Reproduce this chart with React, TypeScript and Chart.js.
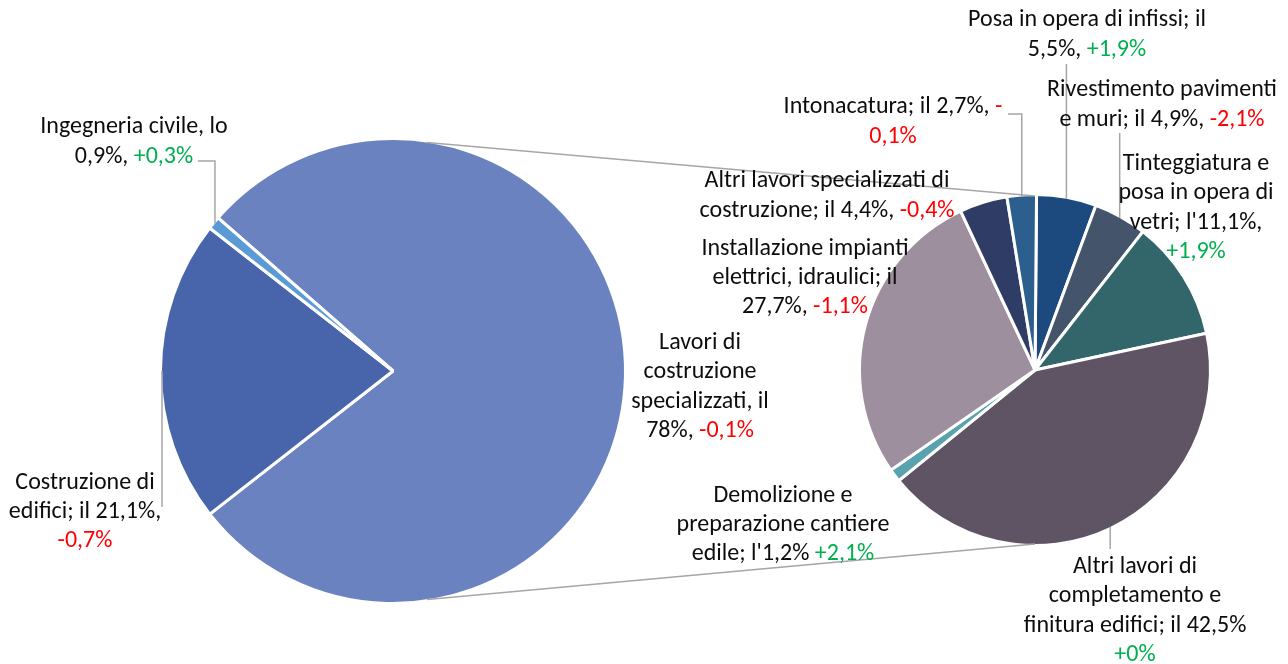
import { useEffect, useRef } from "react";
import { Chart, registerables } from "chart.js";

Chart.register(...registerables);

// ---------- data ----------
const mainCategories = [
  "Lavori di costruzione specializzati",
  "Costruzione di edifici",
  "Ingegneria civile",
];
const mainValues = [78, 21.1, 0.9];
const mainChanges = [-0.1, -0.7, 0.3];
const mainColors = ["#6A82BF", "#4864AA", "#5B9BD5"];
// label text lines; {...} = variation part (coloured by sign)
const mainLabelLines = [
  ["Lavori di", "costruzione", "specializzati, il", "78%, {-0,1%}"],
  ["Costruzione di", "edifici; il 21,1%,", "{-0,7%}"],
  ["Ingegneria civile, lo", "0,9%, {+0,3%}"],
];

const subCategories = [
  "Posa in opera di infissi",
  "Rivestimento pavimenti e muri",
  "Tinteggiatura e posa in opera di vetri",
  "Altri lavori di completamento e finitura edifici",
  "Demolizione e preparazione cantiere edile",
  "Installazione impianti elettrici, idraulici",
  "Altri lavori specializzati di costruzione",
  "Intonacatura",
];
const subValues = [5.5, 4.9, 11.1, 42.5, 1.2, 27.7, 4.4, 2.7];
const subChanges = [1.9, -2.1, 1.9, 0, 2.1, -1.1, -0.4, -0.1];
const subColors = [
  "#1D4A7E",
  "#44546A",
  "#33666A",
  "#5F5463",
  "#5AA2AE",
  "#9E8F9E",
  "#2E3C66",
  "#2C5F8E",
];
const subLabelLines = [
  ["Posa in opera di infissi; il", "5,5%, {+1,9%}"],
  ["Rivestimento pavimenti", "e muri; il 4,9%, {-2,1%}"],
  ["Tinteggiatura e", "posa in opera di", "vetri; l'11,1%,", "{+1,9%}"],
  ["Altri lavori di", "completamento e", "finitura edifici; il 42,5%", "{+0%}"],
  ["Demolizione e", "preparazione cantiere", "edile; l'1,2% {+2,1%}"],
  ["Installazione impianti", "elettrici, idraulici; il", "27,7%, {-1,1%}"],
  ["Altri lavori specializzati di", "costruzione; il 4,4%, {-0,4%}"],
  ["Intonacatura; il 2,7%, {-}", "{0,1%}"],
];

// ---------- layout / style ----------
const W = 1288;
const H = 664;
const BORDER = 3;
const FONT = "24px Carlito, Calibri, Lato, sans-serif";
const LINE_H = 29.3;
const TEXT = "#0D0D0D";
const GREEN = "#00B050";
const RED = "#FF0000";
const LEADER = "#A6A6A6";

type Leader = { y: number; x?: number } | null;
type LabelPos = { dx: number; dy: number; leader: Leader };

// label centre offsets relative to pie centre
const mainLabelPos: LabelPos[] = [
  { dx: 307, dy: 16, leader: null },
  { dx: -308, dy: 141, leader: { y: 136 } },
  { dx: -259, dy: -229, leader: { y: -210, x: -195 } },
];
const subLabelPos: LabelPos[] = [
  { dx: 52, dy: -335, leader: { y: -306 } },
  { dx: 127, dy: -265, leader: { y: -237 } },
  { dx: 161, dy: -162, leader: null },
  { dx: 100, dy: 241, leader: { y: 179 } },
  { dx: -252, dy: 155, leader: null },
  { dx: -230, dy: -92, leader: null },
  { dx: -208, dy: -174, leader: null },
  { dx: -142, dy: -248, leader: { y: -256, x: -27 } },
];

const CONNECTOR_ANGLE = 81.5; // degrees from horizontal on main pie

function parse(line: string) {
  const segs: { t: string; hl: boolean }[] = [];
  const re = /\{([^}]*)\}/g;
  let last = 0;
  let m: RegExpExecArray | null;
  while ((m = re.exec(line))) {
    if (m.index > last) segs.push({ t: line.slice(last, m.index), hl: false });
    segs.push({ t: m[1], hl: true });
    last = m.index + m[0].length;
  }
  if (last < line.length) segs.push({ t: line.slice(last), hl: false });
  return segs;
}

function drawLabels(
  chart: any,
  lines: string[][],
  pos: LabelPos[],
  changes: number[]
) {
  const meta = chart.getDatasetMeta(0);
  const ctx: CanvasRenderingContext2D = chart.ctx;
  ctx.save();
  ctx.font = FONT;
  ctx.textBaseline = "middle";
  ctx.textAlign = "left";
  meta.data.forEach((arc: any, i: number) => {
    const p = arc.getProps(["x", "y", "startAngle", "endAngle", "outerRadius"], true);
    const cx = p.x;
    const cy = p.y;
    const r = p.outerRadius - BORDER / 2;
    const L = pos[i];
    if (L.leader) {
      const mid = (p.startAngle + p.endAngle) / 2;
      const x0 = cx + r * Math.cos(mid);
      const y0 = cy + r * Math.sin(mid);
      ctx.strokeStyle = LEADER;
      ctx.lineWidth = 1.5;
      ctx.beginPath();
      ctx.moveTo(x0, y0);
      ctx.lineTo(x0, cy + L.leader.y);
      if (L.leader.x !== undefined) ctx.lineTo(cx + L.leader.x, cy + L.leader.y);
      ctx.stroke();
    }
    const n = lines[i].length;
    lines[i].forEach((line, j) => {
      const y = cy + L.dy + (j - (n - 1) / 2) * LINE_H;
      const segs = parse(line);
      const total = segs.reduce((s, g) => s + ctx.measureText(g.t).width, 0);
      let x = cx + L.dx - total / 2;
      segs.forEach((g) => {
        ctx.fillStyle = g.hl ? (changes[i] >= 0 ? GREEN : RED) : TEXT;
        ctx.fillText(g.t, x, y);
        x += ctx.measureText(g.t).width;
      });
    });
  });
  ctx.restore();
}

export default function App() {
  const ref1 = useRef<HTMLCanvasElement | null>(null);
  const ref2 = useRef<HTMLCanvasElement | null>(null);

  useEffect(() => {
    if (!ref1.current || !ref2.current) return;
    const mainCenter = { x: 393, y: 371 };
    const subCenter = { x: 1035, y: 370 };

    const c1 = new Chart(ref1.current, {
      type: "pie",
      data: {
        labels: mainCategories,
        datasets: [
          {
            data: mainValues,
            backgroundColor: mainColors,
            borderColor: "#FFFFFF",
            borderWidth: BORDER,
          },
        ],
      },
      options: {
        responsive: false,
        animation: false,
        events: [],
        rotation: -48.8,
        radius: 231 + BORDER / 2,
        layout: {
          padding: {
            left: 0,
            right: W - 2 * mainCenter.x,
            top: H - 2 * (H - mainCenter.y),
            bottom: 0,
          },
        },
        plugins: { legend: { display: false }, tooltip: { enabled: false } },
      },
      plugins: [
        {
          id: "mainLabels",
          afterDraw: (chart: any) =>
            drawLabels(chart, mainLabelLines, mainLabelPos, mainChanges),
        },
      ],
    });

    const c2 = new Chart(ref2.current, {
      type: "pie",
      data: {
        labels: subCategories,
        datasets: [
          {
            data: subValues,
            backgroundColor: subColors,
            borderColor: "#FFFFFF",
            borderWidth: BORDER,
          },
        ],
      },
      options: {
        responsive: false,
        animation: false,
        events: [],
        rotation: 0.5,
        radius: 174 + BORDER / 2,
        layout: {
          padding: {
            left: W - 2 * (W - subCenter.x),
            right: 0,
            top: H - 2 * (H - subCenter.y),
            bottom: 0,
          },
        },
        plugins: { legend: { display: false }, tooltip: { enabled: false } },
      },
      plugins: [
        {
          id: "subLabels",
          afterDraw: (chart: any) => {
            const ctx: CanvasRenderingContext2D = chart.ctx;
            // connector lines between the two pies
            const a1 = c1.getDatasetMeta(0).data[0] as any;
            const p1 = a1.getProps(["x", "y", "outerRadius"], true);
            const r1 = p1.outerRadius - BORDER / 2;
            const a2 = chart.getDatasetMeta(0).data[0] as any;
            const p2 = a2.getProps(["x", "y", "outerRadius"], true);
            const r2 = p2.outerRadius - BORDER / 2;
            const ang = (CONNECTOR_ANGLE * Math.PI) / 180;
            ctx.save();
            ctx.strokeStyle = LEADER;
            ctx.lineWidth = 1.5;
            [-1, 1].forEach((s) => {
              ctx.beginPath();
              ctx.moveTo(p1.x + r1 * Math.cos(ang), p1.y + s * r1 * Math.sin(ang));
              ctx.lineTo(p2.x, p2.y + s * r2);
              ctx.stroke();
            });
            ctx.restore();
            drawLabels(chart, subLabelLines, subLabelPos, subChanges);
          },
        },
      ],
    });

    return () => {
      c2.destroy();
      c1.destroy();
    };
  }, []);

  return (
    <div
      style={{
        position: "fixed",
        left: 0,
        top: 0,
        width: W,
        height: H,
        background: "#FFFFFF",
        overflow: "hidden",
      }}
    >
      <canvas
        ref={ref1}
        width={W}
        height={H}
        style={{ position: "absolute", left: 0, top: 0 }}
      />
      <canvas
        ref={ref2}
        width={W}
        height={H}
        style={{ position: "absolute", left: 0, top: 0 }}
      />
    </div>
  );
}
